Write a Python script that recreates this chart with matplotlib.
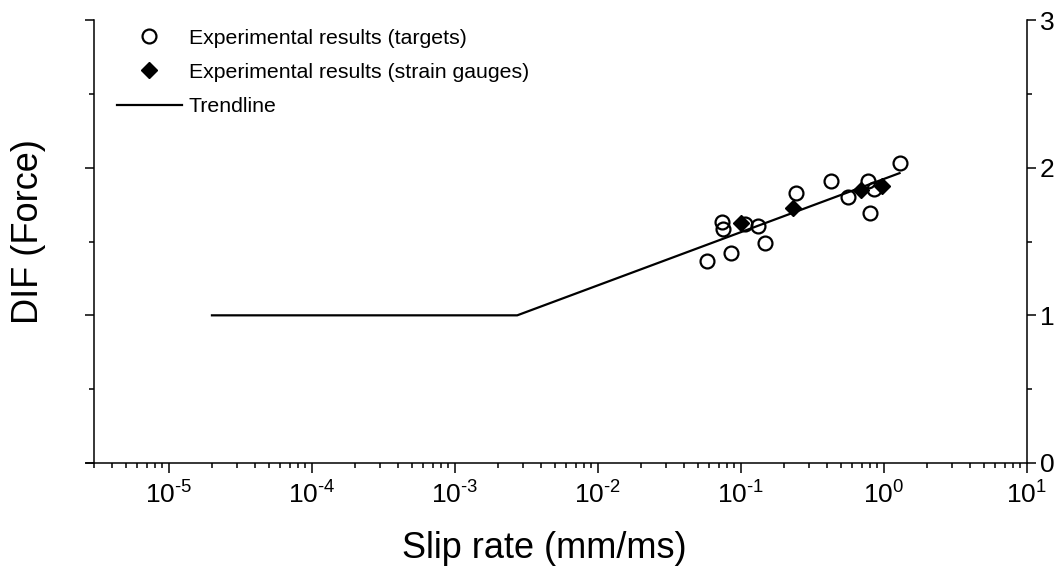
import matplotlib
matplotlib.use("Agg")
import matplotlib.pyplot as plt
from matplotlib.ticker import LogLocator, MultipleLocator, NullFormatter

plt.rcParams['font.family'] = ['Liberation Sans', 'DejaVu Sans']
plt.rcParams['mathtext.fontset'] = 'custom'
plt.rcParams['mathtext.rm'] = 'Liberation Sans'
plt.rcParams['mathtext.default'] = 'regular'
plt.rcParams['axes.unicode_minus'] = False

# Experimental results (targets)
targets_rate = [0.0739, 0.0751, 0.132, 0.147, 0.085, 0.0581, 0.1064,
                0.2445, 0.4295, 0.561, 0.773, 0.861, 0.804, 1.302]
targets_dif = [1.634, 1.583, 1.605, 1.492, 1.424, 1.370, 1.618,
               1.826, 1.912, 1.803, 1.912, 1.853, 1.695, 2.030]

# Experimental results (strain gauges)
gauges_rate = [0.101, 0.2314, 0.695, 0.975]
gauges_dif = [1.623, 1.725, 1.849, 1.876]

# Trendline
trend_rate = [2.0e-5, 2.73e-3, 1.29]
trend_dif = [1.0, 1.0, 1.963]

x_ticks = [1e-5, 1e-4, 1e-3, 1e-2, 1e-1, 1e0, 1e1]
x_tick_labels = ['$10^{\u20105}$', '$10^{\u20104}$', '$10^{\u20103}$', '$10^{\u20102}$',
                 '$10^{\u20101}$', '$10^{0}$', '$10^{1}$']
y_ticks = [0, 1, 2, 3]

fig = plt.figure(figsize=(10.62, 5.78), dpi=100)
ax = fig.add_axes([86/1062, 1 - 463/578, (1026.7 - 86)/1062, (463 - 20)/578])

ax.plot(trend_rate, trend_dif, color='black', lw=1.6, zorder=2,
        label='Trendline')
ax.plot(targets_rate, targets_dif, ls='none', marker='o', ms=10,
        mfc='none', mec='black', mew=1.6, zorder=3,
        label='Experimental results (targets)')
ax.plot(gauges_rate, gauges_dif, ls='none', marker='D', ms=8.5,
        mfc='black', mec='black', mew=1.0, zorder=4,
        label='Experimental results (strain gauges)')

ax.set_xscale('log')
ax.set_xlim(2.63e-6, 10)
ax.set_ylim(0, 3)

ax.spines['top'].set_visible(False)
ax.spines['left'].set_position(('data', 3e-6))
for s in ['left', 'right', 'bottom']:
    ax.spines[s].set_linewidth(1.1)

ax.set_xticks(x_ticks)
ax.set_xticklabels(x_tick_labels)
ax.xaxis.set_minor_locator(LogLocator(base=10, subs=[2, 3, 4, 5, 6, 7, 8, 9], numticks=20))
ax.xaxis.set_minor_formatter(NullFormatter())
ax.set_yticks(y_ticks)
ax.yaxis.set_minor_locator(MultipleLocator(0.5))

ax.tick_params(axis='x', which='major', direction='out', length=7.5, width=1.1,
               labelsize=19, pad=6, top=False)
ax.tick_params(axis='x', which='minor', direction='out', length=3.6, width=1.1, top=False)
ax.tick_params(axis='y', which='both', left=True, right=True,
               labelleft=False, labelright=True, direction='out', width=1.1)
ax.tick_params(axis='y', which='major', length=6.5, labelsize=19, pad=3)
ax.tick_params(axis='y', which='minor', length=3.5)

fig.text(544/1062, 1 - 549/578, 'Slip rate (mm/ms)', fontsize=26,
         ha='center', va='center')
fig.text(29/1062, 1 - 232/578, 'DIF (Force)', fontsize=26, rotation=90,
         ha='center', va='center')

h, l = ax.get_legend_handles_labels()
order = [1, 2, 0]
leg = ax.legend([h[i] for i in order], [l[i] for i in order],
                loc='upper left', bbox_to_anchor=(22/940.7, 1.0),
                frameon=False, fontsize=15.3, handlelength=3.1,
                handletextpad=0.3, labelspacing=0.72, borderaxespad=0)

fig.savefig('out.png', dpi=100)
